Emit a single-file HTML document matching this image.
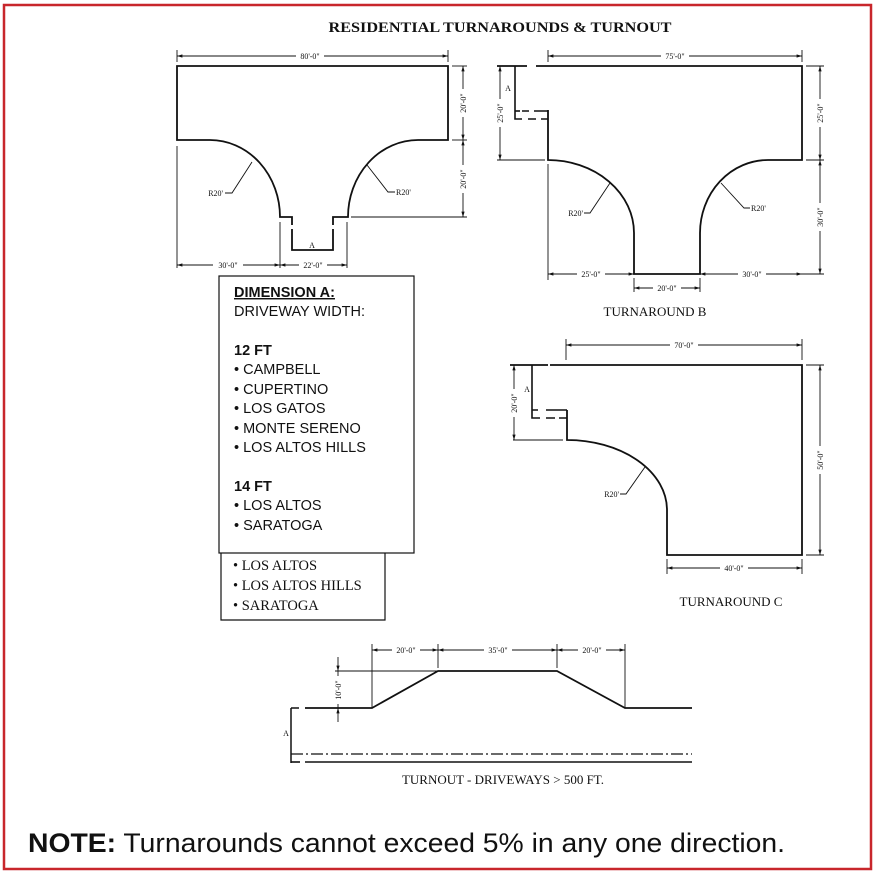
<!DOCTYPE html>
<html><head><meta charset="utf-8"><style>
html,body{margin:0;padding:0;background:#fff;}
svg{display:block}
.s{font-family:"Liberation Serif",serif;fill:#111}
.a{font-family:"Liberation Sans",sans-serif;fill:#111}
</style></head><body>
<svg width="880" height="874" viewBox="0 0 880 874" xmlns="http://www.w3.org/2000/svg">
<defs>
<marker id="ar" viewBox="0 0 10 10" refX="10" refY="5" markerWidth="6" markerHeight="6" orient="auto-start-reverse"><path d="M0,2 L10,5 L0,8z" fill="#111"/></marker>
</defs>
<rect x="4" y="5" width="867" height="864" fill="none" stroke="#c8262b" stroke-width="2.5"/>
<text x="500" y="32" text-anchor="middle" class="s" font-size="15" font-weight="bold" textLength="343" lengthAdjust="spacingAndGlyphs">RESIDENTIAL TURNAROUNDS &amp; TURNOUT</text>

<g stroke="#111" fill="none">
<path d="M177,66 H448 V140 H418 A70,77 0 0 0 348,217 H333 V250 H292 V217 H280 A70,77 0 0 0 210,140 H177 Z" stroke-width="1.8" stroke="#111"/>
<path d="M292,217 V250 M333,217 V250" stroke="#fff" stroke-width="2" stroke-dasharray="0 8 4 20"/>
<g stroke-width="0.9">
<line x1="177" y1="56" x2="448" y2="56" marker-start="url(#ar)" marker-end="url(#ar)"/>
<line x1="177" y1="50" x2="177" y2="62"/><line x1="448" y1="50" x2="448" y2="62"/>
<line x1="177" y1="146" x2="177" y2="268"/><line x1="280" y1="222" x2="280" y2="268"/><line x1="347" y1="222" x2="347" y2="268"/>
<line x1="177" y1="265" x2="280" y2="265" marker-start="url(#ar)" marker-end="url(#ar)"/>
<line x1="280" y1="265" x2="347" y2="265" marker-start="url(#ar)" marker-end="url(#ar)"/>
<line x1="351" y1="217" x2="467" y2="217"/><line x1="452" y1="66" x2="467" y2="66"/><line x1="452" y1="140" x2="467" y2="140"/>
<line x1="463" y1="66" x2="463" y2="140" marker-start="url(#ar)" marker-end="url(#ar)"/>
<line x1="463" y1="140" x2="463" y2="217" marker-start="url(#ar)" marker-end="url(#ar)"/>
<path d="M252,162 L232,193 H225"/><path d="M367,165 L388,192 H395"/>
</g>
<path d="M536,66 H802 V160 H768 A68,73 0 0 0 700,233 V274 H634 V233 A86,73 0 0 0 548,160 V110" stroke-width="1.8"/>
<line x1="497" y1="66" x2="527" y2="66" stroke-width="1.8"/>
<path d="M515,66 V119 H522 M528,119 H536 M541,119 H548 M522,111 H529 M534,111 H548" stroke-width="1.6"/>
<path d="M515,111 H520" stroke-width="1.6"/>
<g stroke-width="0.9">
<line x1="548" y1="56" x2="802" y2="56" marker-start="url(#ar)" marker-end="url(#ar)"/>
<line x1="548" y1="50" x2="548" y2="62"/><line x1="802" y1="50" x2="802" y2="62"/>
<line x1="497" y1="160" x2="545" y2="160"/><line x1="806" y1="160" x2="824" y2="160"/><line x1="806" y1="66" x2="824" y2="66"/><line x1="706" y1="274" x2="824" y2="274"/>
<line x1="500" y1="66" x2="500" y2="160" marker-start="url(#ar)" marker-end="url(#ar)"/>
<line x1="820" y1="66" x2="820" y2="160" marker-start="url(#ar)" marker-end="url(#ar)"/>
<line x1="820" y1="160" x2="820" y2="274" marker-start="url(#ar)" marker-end="url(#ar)"/>
<line x1="548" y1="164" x2="548" y2="280"/>
<line x1="548" y1="274" x2="634" y2="274" marker-start="url(#ar)" marker-end="url(#ar)"/>
<line x1="700" y1="274" x2="802" y2="274" marker-start="url(#ar)" marker-end="url(#ar)"/>
<line x1="634" y1="278" x2="634" y2="292"/><line x1="700" y1="278" x2="700" y2="292"/>
<line x1="634" y1="288" x2="700" y2="288" marker-start="url(#ar)" marker-end="url(#ar)"/>
<path d="M610,183 L590,213 H584"/><path d="M721,183 L744,208 H750"/>
</g>
<path d="M550,365 H802 V555 H667 V510 A100,70 0 0 0 567,440 V410" stroke-width="1.8"/>
<line x1="510" y1="365" x2="548" y2="365" stroke-width="1.8"/>
<path d="M532,365 V418 H540 M546,418 H555 M559,418 H567 M532,410 H538 M546,410 H567" stroke-width="1.6"/>
<g stroke-width="0.9">
<line x1="566" y1="345" x2="802" y2="345" marker-start="url(#ar)" marker-end="url(#ar)"/>
<line x1="566" y1="339" x2="566" y2="360"/><line x1="802" y1="339" x2="802" y2="360"/>
<line x1="513" y1="440" x2="563" y2="440"/><line x1="806" y1="365" x2="824" y2="365"/><line x1="806" y1="555" x2="824" y2="555"/>
<line x1="514" y1="365" x2="514" y2="440" marker-start="url(#ar)" marker-end="url(#ar)"/>
<line x1="820" y1="365" x2="820" y2="555" marker-start="url(#ar)" marker-end="url(#ar)"/>
<line x1="667" y1="559" x2="667" y2="574"/><line x1="802" y1="559" x2="802" y2="574"/>
<line x1="667" y1="568" x2="802" y2="568" marker-start="url(#ar)" marker-end="url(#ar)"/>
<path d="M645,467 L626,494 H620"/>
</g>
<path d="M305,708 H372 L438,671 H557 L625,708 H692" stroke-width="1.8"/>
<path d="M291,708 H299 M291,708 V763" stroke-width="1.5"/>
<line x1="291" y1="754" x2="692" y2="754" stroke-width="1.2" stroke-dasharray="12 3 2 3"/>
<line x1="305" y1="762" x2="692" y2="762" stroke-width="1.6"/>
<line x1="291" y1="762" x2="300" y2="762" stroke-width="1.6"/>
<g stroke-width="0.9">
<line x1="335" y1="671" x2="438" y2="671"/>
<line x1="372" y1="644" x2="372" y2="708"/><line x1="438" y1="644" x2="438" y2="668"/><line x1="557" y1="644" x2="557" y2="668"/><line x1="625" y1="644" x2="625" y2="708"/>
<line x1="372" y1="650" x2="438" y2="650" marker-start="url(#ar)" marker-end="url(#ar)"/>
<line x1="438" y1="650" x2="557" y2="650" marker-start="url(#ar)" marker-end="url(#ar)"/>
<line x1="557" y1="650" x2="625" y2="650" marker-start="url(#ar)" marker-end="url(#ar)"/>
<line x1="338" y1="657" x2="338" y2="671" marker-end="url(#ar)"/>
<line x1="338" y1="722" x2="338" y2="708" marker-end="url(#ar)"/>
<line x1="338" y1="671" x2="338" y2="708"/>
</g>
<rect x="219" y="276" width="195" height="277" stroke-width="1.2"/>
<path d="M221,553 V620 H385 V553" stroke-width="1.2"/>
</g>

<g class="s" font-size="8">
<rect x="296" y="51" width="28" height="10" fill="#fff"/><text x="310" y="59" text-anchor="middle">80'-0"</text>
<rect x="213" y="260" width="30" height="10" fill="#fff"/><text x="228" y="268" text-anchor="middle">30'-0"</text>
<rect x="299" y="260" width="28" height="10" fill="#fff"/><text x="313" y="268" text-anchor="middle">22'-0"</text>
<text x="223" y="196" text-anchor="end">R20'</text><text x="396" y="195">R20'</text>
<text x="312" y="248" text-anchor="middle">A</text>
<g transform="translate(466,103) rotate(-90)"><rect x="-14" y="-8" width="28" height="10" fill="#fff"/><text text-anchor="middle">20'-0"</text></g>
<g transform="translate(466,179) rotate(-90)"><rect x="-14" y="-8" width="28" height="10" fill="#fff"/><text text-anchor="middle">20'-0"</text></g>

<rect x="661" y="51" width="28" height="10" fill="#fff"/><text x="675" y="59" text-anchor="middle">75'-0"</text>
<text x="508" y="91" text-anchor="middle">A</text>
<g transform="translate(503,113) rotate(-90)"><rect x="-14" y="-8" width="28" height="10" fill="#fff"/><text text-anchor="middle">25'-0"</text></g>
<g transform="translate(823,113) rotate(-90)"><rect x="-14" y="-8" width="28" height="10" fill="#fff"/><text text-anchor="middle">25'-0"</text></g>
<g transform="translate(823,217) rotate(-90)"><rect x="-14" y="-8" width="28" height="10" fill="#fff"/><text text-anchor="middle">30'-0"</text></g>
<rect x="577" y="269" width="28" height="10" fill="#fff"/><text x="591" y="277" text-anchor="middle">25'-0"</text>
<rect x="738" y="269" width="28" height="10" fill="#fff"/><text x="752" y="277" text-anchor="middle">30'-0"</text>
<rect x="653" y="283" width="28" height="10" fill="#fff"/><text x="667" y="291" text-anchor="middle">20'-0"</text>
<text x="583" y="216" text-anchor="end">R20'</text><text x="751" y="211">R20'</text>

<rect x="670" y="340" width="28" height="10" fill="#fff"/><text x="684" y="348" text-anchor="middle">70'-0"</text>
<text x="527" y="392" text-anchor="middle">A</text>
<g transform="translate(517,403) rotate(-90)"><rect x="-14" y="-8" width="28" height="10" fill="#fff"/><text text-anchor="middle">20'-0"</text></g>
<g transform="translate(823,460) rotate(-90)"><rect x="-14" y="-8" width="28" height="10" fill="#fff"/><text text-anchor="middle">50'-0"</text></g>
<rect x="720" y="563" width="28" height="10" fill="#fff"/><text x="734" y="571" text-anchor="middle">40'-0"</text>
<text x="619" y="497" text-anchor="end">R20'</text>

<rect x="392" y="645" width="28" height="10" fill="#fff"/><text x="406" y="653" text-anchor="middle">20'-0"</text>
<rect x="484" y="645" width="28" height="10" fill="#fff"/><text x="498" y="653" text-anchor="middle">35'-0"</text>
<rect x="578" y="645" width="28" height="10" fill="#fff"/><text x="592" y="653" text-anchor="middle">20'-0"</text>
<g transform="translate(341,690) rotate(-90)"><rect x="-14" y="-8" width="28" height="10" fill="#fff"/><text text-anchor="middle">10'-0"</text></g>
<text x="286" y="736" text-anchor="middle">A</text>
</g>

<g class="s" font-size="13">
<text x="655" y="316" text-anchor="middle">TURNAROUND B</text>
<text x="731" y="606" text-anchor="middle">TURNAROUND C</text>
<text x="503" y="784" text-anchor="middle">TURNOUT - DRIVEWAYS &gt; 500 FT.</text>
</g>

<g class="a" font-size="14.5">
<text x="234" y="297" font-weight="bold" text-decoration="underline">DIMENSION A:</text>
<text x="234" y="316">DRIVEWAY WIDTH:</text>
<text x="234" y="355" font-weight="bold">12 FT</text>
<text x="234" y="374">•  CAMPBELL</text>
<text x="234" y="394">•  CUPERTINO</text>
<text x="234" y="413">•  LOS GATOS</text>
<text x="234" y="433">•  MONTE SERENO</text>
<text x="234" y="452">•  LOS ALTOS HILLS</text>
<text x="234" y="491" font-weight="bold">14 FT</text>
<text x="234" y="510">•  LOS ALTOS</text>
<text x="234" y="530">•  SARATOGA</text>
</g>
<g class="s" font-size="14.5">
<text x="233" y="570">• LOS ALTOS</text>
<text x="233" y="590">• LOS ALTOS HILLS</text>
<text x="233" y="610">• SARATOGA</text>
</g>
<text x="28" y="852" class="a" font-size="27" textLength="757" lengthAdjust="spacingAndGlyphs"><tspan font-weight="bold">NOTE:</tspan> Turnarounds cannot exceed 5% in any one direction.</text>
</svg>
</body></html>
